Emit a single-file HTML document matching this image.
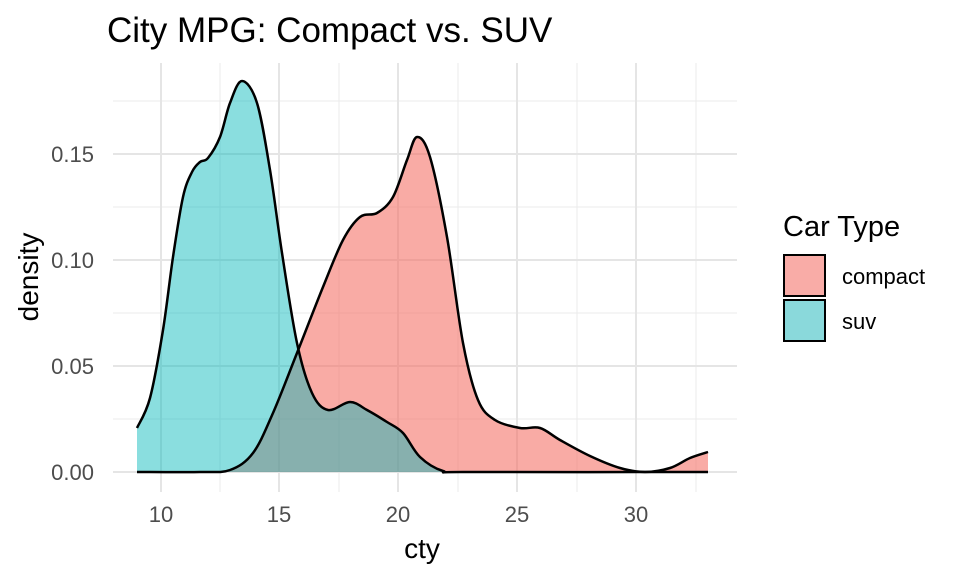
<!DOCTYPE html>
<html><head><meta charset="utf-8"><style>
body{margin:0;background:#fff}
svg text{font-family:"Liberation Sans",Arial,sans-serif}
</style></head><body>
<svg id="s" width="960" height="576" xmlns="http://www.w3.org/2000/svg">
<g stroke="#ebebeb" stroke-width="1">
<line x1="113" x2="737" y1="419" y2="419"/><line x1="113" x2="737" y1="313" y2="313"/><line x1="113" x2="737" y1="207" y2="207"/><line x1="113" x2="737" y1="101" y2="101"/>
<line y1="63" y2="492" x1="220" x2="220"/><line y1="63" y2="492" x1="339" x2="339"/><line y1="63" y2="492" x1="458" x2="458"/><line y1="63" y2="492" x1="577" x2="577"/><line y1="63" y2="492" x1="696" x2="696"/>
</g>
<g stroke="#e5e5e5" stroke-width="2">
<line x1="113" x2="737" y1="472" y2="472"/><line x1="113" x2="737" y1="366" y2="366"/><line x1="113" x2="737" y1="260" y2="260"/><line x1="113" x2="737" y1="154" y2="154"/>
<line y1="63" y2="492" x1="161" x2="161"/><line y1="63" y2="492" x1="279" x2="279"/><line y1="63" y2="492" x1="398" x2="398"/><line y1="63" y2="492" x1="517" x2="517"/><line y1="63" y2="492" x1="636" x2="636"/>
</g>
<path id="cf" fill="rgba(244,110,100,0.58)"/>
<path id="sf" fill="rgba(0,182,186,0.46)"/>
<path id="cl" fill="none" stroke="#000" stroke-width="2.5"/>
<path id="sl" fill="none" stroke="#000" stroke-width="2.5"/>
<g fill="#4d4d4d" font-size="22" text-anchor="end">
<text x="94" y="480">0.00</text><text x="94" y="374">0.05</text><text x="94" y="268">0.10</text><text x="94" y="162">0.15</text>
</g>
<g fill="#4d4d4d" font-size="22" text-anchor="middle">
<text x="161" y="522">10</text><text x="279" y="522">15</text><text x="398" y="522">20</text><text x="517" y="522">25</text><text x="636" y="522">30</text>
</g>
<text x="422" y="558" font-size="28" text-anchor="middle">cty</text>
<text transform="translate(38,277) rotate(-90)" font-size="28" text-anchor="middle">density</text>
<text x="107" y="42" font-size="35">City MPG: Compact vs. SUV</text>
<text x="783" y="236" font-size="29">Car Type</text>
<rect x="784" y="255" width="41" height="41" fill="#f9aca7" stroke="#000" stroke-width="2"/>
<rect x="784" y="300" width="41" height="41" fill="#8ad9db" stroke="#000" stroke-width="2"/>
<text x="842" y="284" font-size="22">compact</text>
<text x="842" y="329" font-size="22">suv</text>
</svg>
<script>
function cr(p){let d="M"+p[0][0]+","+p[0][1];for(let i=0;i<p.length-1;i++){const a=p[i-1]||p[i],b=p[i],c=p[i+1],e=p[i+2]||c;d+=" C"+(b[0]+(c[0]-a[0])/6)+","+(b[1]+(c[1]-a[1])/6)+" "+(c[0]-(e[0]-b[0])/6)+","+(c[1]-(e[1]-b[1])/6)+" "+c[0]+","+c[1];}return d;}
const suv=[[137,428],[150,398],[163,330],[173,257],[183,197],[192,172],[200,162],[208,158],[220,137],[230,103],[242,81],[257,103],[270,170],[282,253],[297,343],[312,393],[328,410],[350,402],[367,410],[387,422],[403,433],[420,457],[443,471],[470,472],[708,472]];
const cp=[[137,472],[200,472],[230,470],[253,453],[273,413],[297,353],[323,287],[343,240],[360,217],[377,213],[393,197],[407,160],[417,137],[430,157],[447,237],[463,343],[478,400],[495,420],[520,428],[540,428],[560,440],[590,456],[620,468],[645,472],[670,468],[690,458],[708,452]];
const s=cr(suv),c=cr(cp);
document.getElementById('sf').setAttribute('d',s+" L708,472 L137,472 Z");
document.getElementById('cf').setAttribute('d',c+" L708,472 L137,472 Z");
document.getElementById('sl').setAttribute('d',s);
document.getElementById('cl').setAttribute('d',c);
</script>
</body></html>
